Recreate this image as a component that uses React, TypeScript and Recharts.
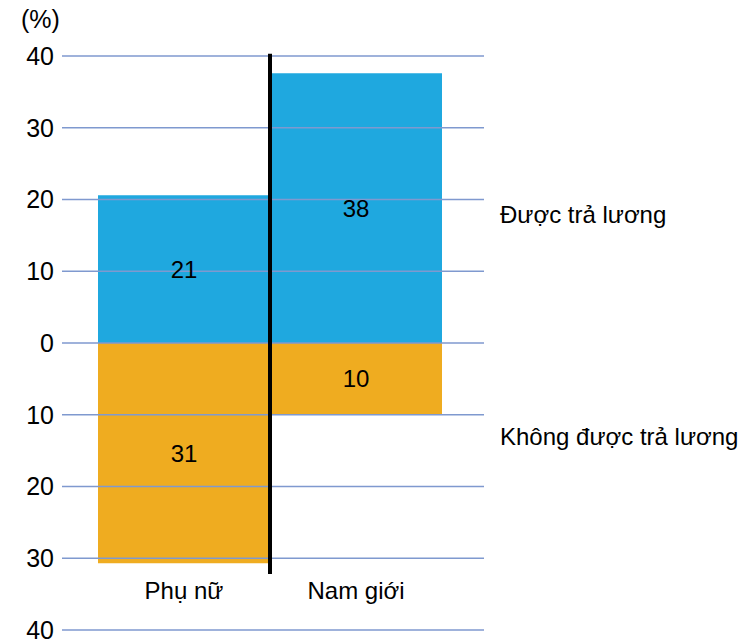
import React from "react"
import {
  Bar,
  BarChart,
  LabelList,
  ReferenceLine,
  XAxis,
  YAxis,
} from "recharts"

// chart values
const groups = ["Phụ nữ", "Nam giới"]
const paid = [20.6, 37.6]
const unpaid = [-30.7, -9.9]
const seriesNames = ["Được trả lương", "Không được trả lương"]
const yTicks = [-40, -30, -20, -10, 0, 10, 20, 30, 40]

const data = groups.map((g, i) => ({ group: g, paid: paid[i], unpaid: unpaid[i] }))

const FONT = "'Liberation Sans', Arial, sans-serif"
const GRID = "#7f99cf"

const CategoryTick = (props: any) => {
  const { x, y, payload } = props
  return (
    <text x={x} y={y - 39} textAnchor="middle" fontSize={24} fontFamily={FONT} fill="#000">
      {payload.value}
    </text>
  )
}

export default function App() {
  return (
    <div style={{ position: "absolute", left: 0, top: 0, width: 740, height: 639, background: "#fff" }}>
      <div style={{ position: "absolute", left: 21, top: 5, fontSize: 25, fontFamily: FONT }}>(%)</div>
      <BarChart
        width={740}
        height={639}
        data={data}
        stackOffset="sign"
        barCategoryGap={0}
        margin={{ top: 56, right: 256, bottom: 0, left: 0 }}
      >
        <XAxis
          dataKey="group"
          height={9}
          axisLine={false}
          tickLine={false}
          padding={{ left: 36, right: 42 }}
          tick={<CategoryTick />}
          interval={0}
        />
        <YAxis
          width={62}
          domain={[-40, 40]}
          ticks={yTicks}
          axisLine={false}
          tickLine={false}
          interval={0}
          tickFormatter={(v: number) => String(Math.abs(v))}
          tick={{ fontSize: 25, fontFamily: FONT, fill: "#000" }}
        />
        <Bar dataKey="paid" stackId="a" fill="#1fa8df" isAnimationActive={false}>
          <LabelList
            dataKey="paid"
            position="center"
            formatter={(v: any) => Math.round(Math.abs(Number(v)))}
            style={{ fontSize: 24, fontFamily: FONT, fill: "#000" }}
          />
        </Bar>
        <Bar dataKey="unpaid" stackId="a" fill="#efac20" isAnimationActive={false}>
          <LabelList
            dataKey="unpaid"
            position="center"
            formatter={(v: any) => Math.round(Math.abs(Number(v)))}
            style={{ fontSize: 24, fontFamily: FONT, fill: "#000" }}
          />
        </Bar>
        {yTicks.map((t) => (
          <ReferenceLine key={t} y={t} stroke={GRID} strokeWidth={1.5} ifOverflow="visible" />
        ))}
        <ReferenceLine
          segment={[
            { x: groups[0], y: 40.3 },
            { x: groups[0], y: -32.2 },
          ]}
          position="end"
          stroke="#000"
          strokeWidth={4}
          ifOverflow="visible"
        />
      </BarChart>
      <div style={{ position: "absolute", left: 500, top: 201, fontSize: 24, fontFamily: FONT }}>{seriesNames[0]}</div>
      <div style={{ position: "absolute", left: 500, top: 423, fontSize: 24, fontFamily: FONT }}>{seriesNames[1]}</div>
    </div>
  )
}
